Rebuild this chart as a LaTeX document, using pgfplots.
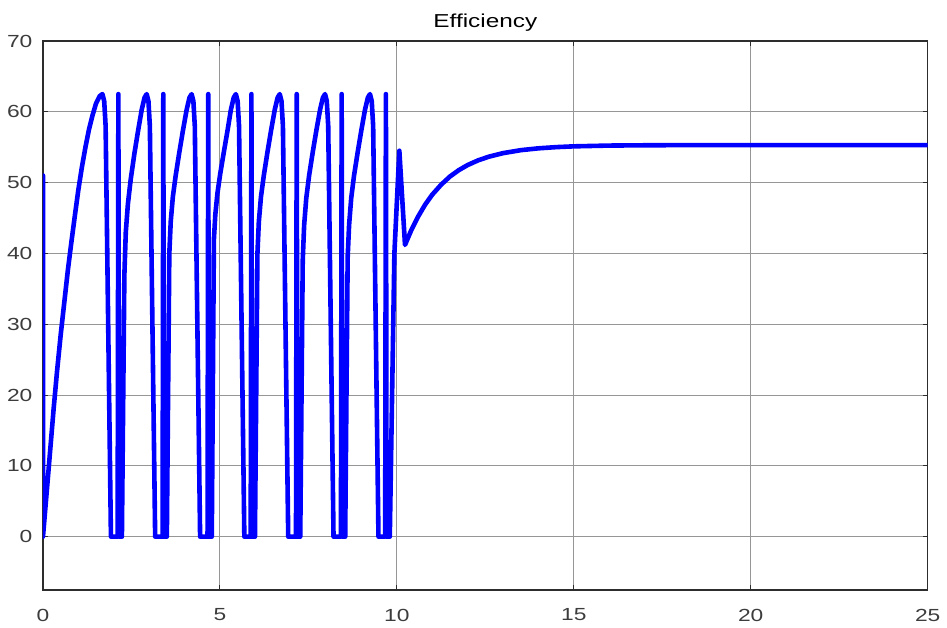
\documentclass[border=0pt]{standalone}
\usepackage{fontspec}
\setmainfont{Liberation Sans}[FakeStretch=1.3]
\usepackage{pgfplots}
\pgfplotsset{compat=1.18}
\definecolor{gridgray}{RGB}{150,150,150}
\definecolor{framegray}{RGB}{45,45,45}
\definecolor{ticktext}{RGB}{60,60,60}
\begin{document}
\begin{tikzpicture}
\begin{axis}[
  name=ax,
  scale only axis,
  width=442.5bp, height=274.5bp,
  xmin=0, xmax=25, ymin=-7.5, ymax=70,
  xtick={0,5,10,15,20,25},
  ytick={0,10,20,30,40,50,60,70},
  grid=major,
  major grid style={gridgray, line width=0.5bp},
  axis line style={framegray, line width=0.8bp},
  tick style={framegray, line width=0.5bp},
  major tick length=2.5bp,
  tick align=inside,
  /pgf/number format/assume math mode=true,
  tick label style={font=\fontsize{8.8}{10}\selectfont, text=ticktext},
  xticklabel style={yshift=-6bp},
  yticklabel style={xshift=-1.8bp},
  title={Efficiency},
  title style={font=\fontsize{9.4}{11}\selectfont, text=black, yshift=-4.5bp},
  clip=true,
]
\addplot[color={rgb,255:red,0;green,0;blue,255}, line width=2.3bp, line join=round, line cap=round] coordinates {
(0,51)(0,0)(0.1,6)(0.2,12)(0.3,18)(0.4,23.5)(0.5,28.5)(0.6,33)(0.7,37.5)(0.8,41.5)(0.9,45.3)(1.0,49)(1.1,52.2)(1.2,55)(1.3,57.5)(1.4,59.5)(1.5,61.2)(1.6,62.2)(1.68,62.5)
(1.73,61.5)(1.77,58)(1.92,0)(2.11,0)(2.13,62.5)(2.15,0)(2.23,0)(2.30,37)(2.34,43)(2.40,47)(2.48,50.5)(2.58,54)(2.69,57.4)(2.79,60.3)(2.87,62)(2.93,62.5)
(2.98,61.5)(3.02,58)(3.17,0)(3.38,0)(3.40,62.5)(3.42,0)(3.50,0)(3.57,40)(3.61,44.5)(3.67,48)(3.75,51)(3.85,54.2)(3.96,57.5)(4.06,60.3)(4.14,62)(4.20,62.5)
(4.25,61.5)(4.29,58)(4.44,0)(4.65,0)(4.67,62.5)(4.69,0)(4.77,0)(4.83,42)(4.87,45.5)(4.93,48.5)(5.01,51.3)(5.11,54.3)(5.22,57.5)(5.31,60.3)(5.39,62)(5.45,62.5)
(5.50,61.5)(5.54,58)(5.69,0)(5.87,0)(5.89,62.5)(5.91,0)(5.99,0)(6.06,40)(6.10,44.5)(6.16,48)(6.24,51)(6.34,54.2)(6.45,57.5)(6.55,60.3)(6.63,62)(6.69,62.5)
(6.74,61.5)(6.78,58)(6.93,0)(7.15,0)(7.17,62.5)(7.19,0)(7.27,0)(7.34,39)(7.38,44)(7.44,47.8)(7.52,51)(7.62,54.2)(7.73,57.5)(7.83,60.3)(7.91,62)(7.97,62.5)
(8.02,61.5)(8.06,58)(8.21,0)(8.42,0)(8.44,62.5)(8.46,0)(8.54,0)(8.61,39.5)(8.65,44)(8.71,47.8)(8.79,51)(8.89,54.2)(9.00,57.5)(9.10,60.3)(9.18,62)(9.24,62.5)
(9.29,61.5)(9.33,58)(9.48,0)(9.67,0)(9.69,62.5)(9.71,0)(9.80,0)(9.93,40)(10.07,54.5)(10.23,41.2)
(10.4,43.2)(10.6,45.2)(10.8,46.9)(11.0,48.3)(11.25,49.7)(11.5,50.86)(11.75,51.76)(12.0,52.48)(12.3,53.15)(12.6,53.66)(13.0,54.16)(13.5,54.58)(14.0,54.84)(14.5,55.01)(15.0,55.12)(16.0,55.23)(17.0,55.27)(18.0,55.29)(20.0,55.3)(25,55.3)
};
\end{axis}
\path (ax.south west) ++(-21.5bp,-18bp) coordinate (bbsw);
\path (ax.north east) ++(9.5bp,20.5bp) coordinate (bbne);
\useasboundingbox (bbsw) rectangle (bbne);
\end{tikzpicture}
\end{document}
